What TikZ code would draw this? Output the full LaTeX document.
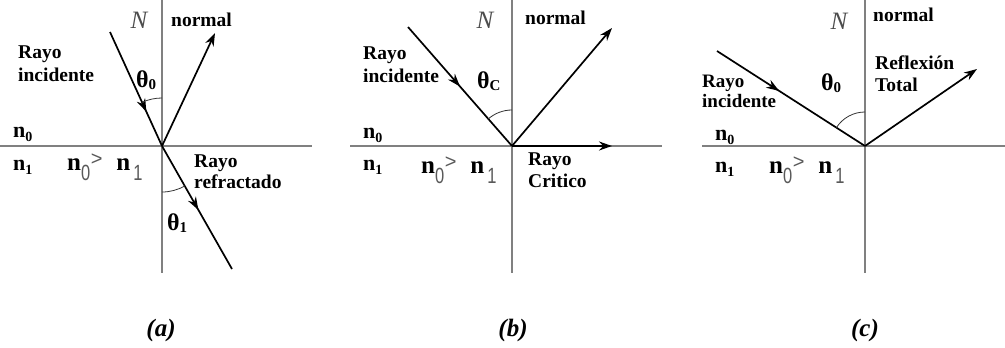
\documentclass[tikz,border=0pt]{standalone}
\usepackage{graphicx}
\usepackage{fontspec}
\setmainfont{Liberation Serif}
\setsansfont{Liberation Sans}
\usetikzlibrary{arrows.meta,decorations.markings}
\newcommand\thsub[1]{θ\raisebox{-2pt}{\fontsize{15}{15}\selectfont #1}}
\newcommand\nlab[1]{\textbf{n}\raisebox{-4pt}{\fontsize{14}{14}\selectfont\bfseries #1}}
\newcommand\nrsub[1]{\raisebox{-10pt}{\scalebox{0.75}[1]{\fontsize{22}{22}\selectfont\sffamily\color{black!65}#1}}}
\newcommand\nrel{\textbf{n}\nrsub{0}\hspace{0.5pt}\raisebox{5pt}{\fontsize{20}{20}\selectfont\sffamily\color{black!65}>}\hspace{14pt}\textbf{n}\hspace{3pt}\nrsub{1}}
\begin{document}
\begin{tikzpicture}[x=1pt,y=-1pt,
  axis/.style={draw=black!50, line width=1.3pt},
  ray/.style={draw=black, line width=1.7pt},
  tipend/.style={-{Stealth[length=13pt,width=9pt]}},
  midarrow/.style={postaction={decorate}, decoration={markings, mark=at position #1 with {\arrow{Stealth[length=13pt,width=9pt]}}}},
  anglearc/.style={draw=black!80, line width=0.8pt},
  lbl/.style={font=\fontsize{19.5}{23}\selectfont\bfseries, align=left, inner sep=0pt},
  nl/.style={font=\fontsize{22}{22}\selectfont, inner sep=0pt},
  nr/.style={font=\fontsize{25}{25}\selectfont, inner sep=0pt},
  thl/.style={font=\fontsize{24}{24}\selectfont\bfseries, inner sep=0pt},
  nn/.style={font=\fontsize{25}{25}\selectfont\itshape, text=black!70, inner sep=0pt},
  captext/.style={font=\fontsize{25}{25}\selectfont\bfseries\itshape, inner sep=0pt}]
\useasboundingbox (0,0) rectangle (1005,348);
% ---------- panel (a)
\coordinate (Oa) at (162,146);
\coordinate (Na1) at (162,0); \coordinate (Na2) at (162,273);
\coordinate (Ha1) at (0,146); \coordinate (Ha2) at (312,146);
\coordinate (Ia) at (110,32); \coordinate (Ra) at (215,33); \coordinate (Ta) at (232,269);
\draw[axis] (Na1) -- (Na2);
\draw[axis] (Ha1) -- (Ha2);
\draw[ray, midarrow=0.7] (Ia) -- (Oa);
\draw[ray, tipend] (Oa) -- (Ra);
\draw[ray, midarrow=0.52] (Oa) -- (Ta);
\draw[anglearc] (162,98) arc[start angle=-90, end angle=-114.5, radius=48];
\draw[anglearc] (162,192) arc[start angle=90, end angle=60.4, radius=46];
\node[nn] (Nla) at (139,20) {N};
\node[lbl, anchor=west] (nora) at (171,20) {normal};
\node[lbl, anchor=north west] (inca) at (18,46) {Rayo\\incidente};
\node[thl, anchor=base west] (tha) at (136,87) {\thsub{0}};
\node[nl, anchor=base west] (n0a) at (13,137) {\nlab{0}};
\node[nl, anchor=base west] (n1a) at (13,170) {\nlab{1}};
\node[nr, anchor=base west] (rela) at (67,170) {\nrel};
\node[lbl, anchor=north west, font=\fontsize{19.5}{21}\selectfont\bfseries] (refa) at (194,155) {Rayo\\refractado};
\node[thl, anchor=base west] (th1a) at (167,230) {\thsub{1}};
\node[captext] (capa) at (161,330) {(a)};
% ---------- panel (b)
\coordinate (Ob) at (512,146);
\coordinate (Nb1) at (512,0); \coordinate (Nb2) at (512,273);
\coordinate (Hb1) at (350,146); \coordinate (Hb2) at (662,146);
\coordinate (Ib) at (408,27); \coordinate (Rb) at (612,28); \coordinate (Cb) at (612,146);
\draw[axis] (Nb1) -- (Nb2);
\draw[axis] (Hb1) -- (Hb2);
\draw[ray, midarrow=0.5] (Ib) -- (Ob);
\draw[ray, tipend] (Ob) -- (Rb);
\draw[ray, tipend] (Ob) -- (Cb);
\draw[anglearc] (512,110) arc[start angle=-90, end angle=-131.2, radius=36];
\node[nn] (Nlb) at (485,20) {N};
\node[lbl, anchor=west] (norb) at (525,18) {normal};
\node[lbl, anchor=north west] (incb) at (363,47) {Rayo\\incidente};
\node[thl, anchor=base west] (thb) at (477,88) {\thsub{C}};
\node[nl, anchor=base west] (n0b) at (363,138) {\nlab{0}};
\node[nl, anchor=base west] (n1b) at (363,170) {\nlab{1}};
\node[nr, anchor=base west] (relb) at (421,173) {\nrel};
\node[lbl, anchor=north west, font=\fontsize{19.5}{22}\selectfont\bfseries] (crib) at (528,153) {Rayo\\Critico};
\node[captext] (capb) at (513,330) {(b)};
% ---------- panel (c)
\coordinate (Oc) at (865,146);
\coordinate (Nc1) at (865,0); \coordinate (Nc2) at (865,273);
\coordinate (Hc1) at (702,146); \coordinate (Hc2) at (1005,146);
\coordinate (Ic) at (717,51); \coordinate (Rc) at (977,69);
\draw[axis] (Nc1) -- (Nc2);
\draw[axis] (Hc1) -- (Hc2);
\draw[ray, midarrow=0.42] (Ic) -- (Oc);
\draw[ray, tipend] (Oc) -- (Rc);
\draw[anglearc] (865,112) arc[start angle=-90, end angle=-147.3, radius=34];
\node[nn] (Nlc) at (839,21) {N};
\node[lbl, anchor=west] (norc) at (873,15) {normal};
\node[lbl, anchor=north west, font=\fontsize{19.5}{22}\selectfont\bfseries] (totc) at (875,56) {Reflexión\\Total};
\node[thl, anchor=base west] (thc) at (821,90) {\thsub{0}};
\node[lbl, anchor=north west, font=\fontsize{19}{20}\selectfont\bfseries] (incc) at (702,75) {Rayo\\incidente};
\node[nl, anchor=base west] (n0c) at (715,140) {\nlab{0}};
\node[nl, anchor=base west] (n1c) at (715,172) {\nlab{1}};
\node[nr, anchor=base west] (relc) at (769,173) {\nrel};
\node[captext] (capc) at (865,330) {(c)};
\end{tikzpicture}
\end{document}
